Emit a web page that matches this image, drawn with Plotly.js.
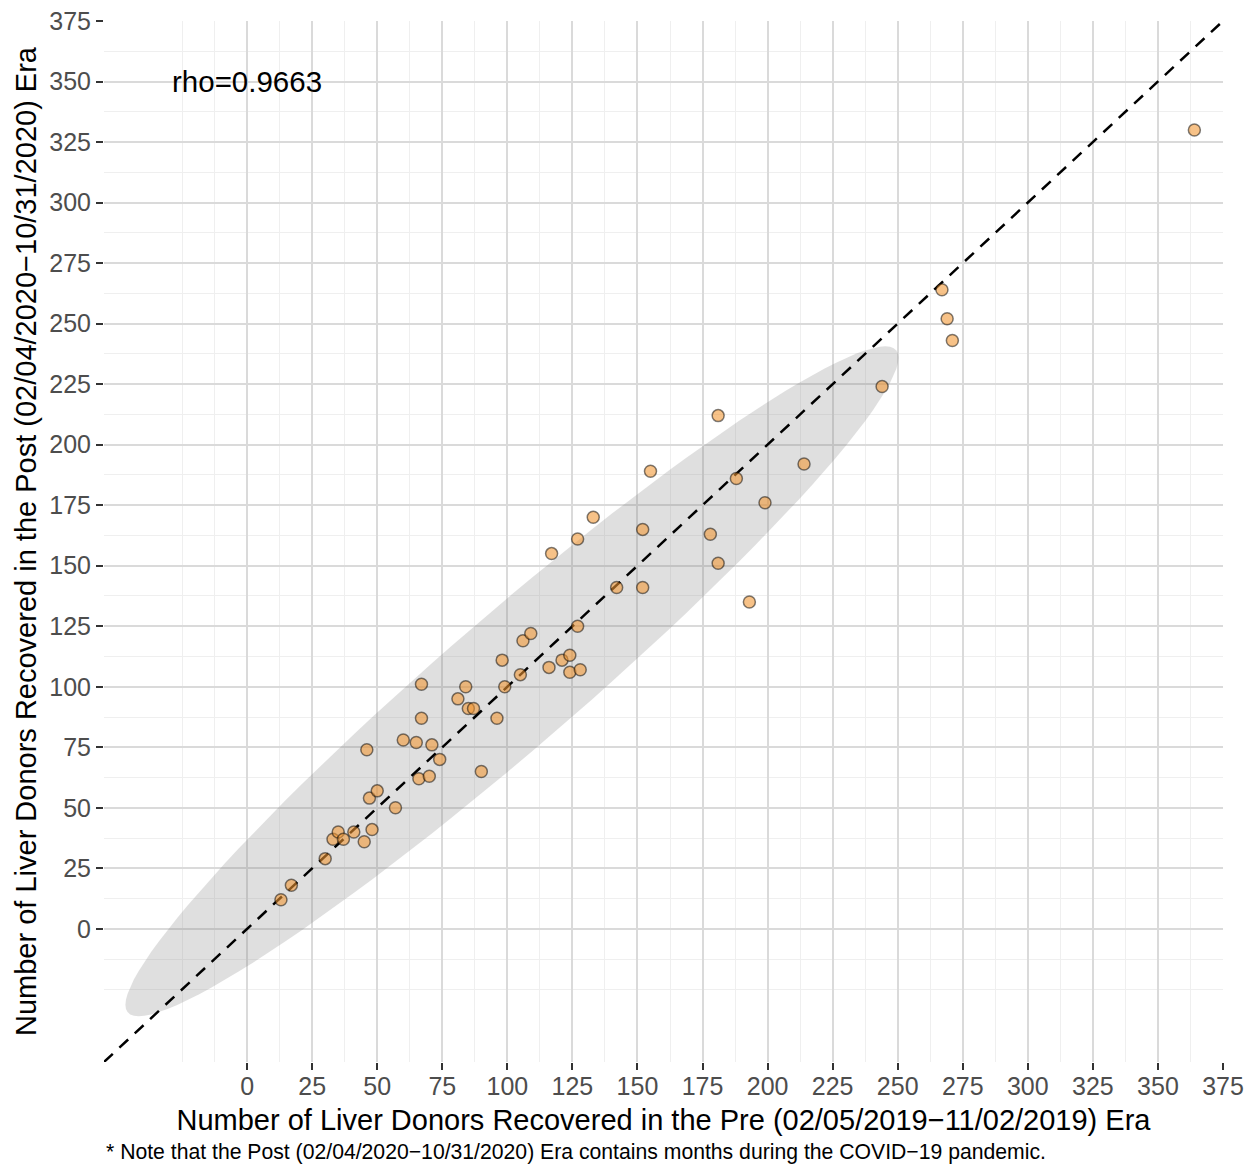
<!DOCTYPE html>
<html>
<head>
<meta charset="utf-8">
<script src="https://cdn.plot.ly/plotly-3.0.1.min.js"></script>
<style>
html,body{margin:0;padding:0;background:#fff;}
#chart{width:1251px;height:1164px;}
</style>
</head>
<body>
<div id="chart"></div>
<script>
// Number of liver donors recovered per center: Pre era (x) vs Post era (y)
const preEra = [13,17,30,33,35,37,41,45,48,46,47,50,57,60,65,67,67,66,70,71,74,81,84,85,87,90,96,98,99,105,106,109,116,117,121,124,124,127,128,127,133,142,152,152,155,178,181,181,188,193,199,214,244,267,269,271,364];
const postEra = [12,18,29,37,40,37,40,36,41,74,54,57,50,78,77,101,87,62,63,76,70,95,100,91,91,65,87,111,100,105,119,122,108,155,111,113,106,125,107,161,170,141,165,141,189,163,212,151,186,135,176,192,224,264,252,243,330];
const tickValues = [0,25,50,75,100,125,150,175,200,225,250,275,300,325,350,375];
const tickLabels = ["0","25","50","75","100","125","150","175","200","225","250","275","300","325","350","375"];
const minorValues = [-25,-12.5,12.5,37.5,62.5,87.5,112.5,137.5,162.5,187.5,212.5,237.5,262.5,287.5,312.5,337.5,362.5];
const axisRange = [-55, 375];
const rhoText = "rho=0.9663";
const xTitle = "Number of Liver Donors Recovered in the Pre (02/05/2019\u221211/02/2019) Era";
const yTitle = "Number of Liver Donors Recovered in the Post (02/04/2020\u221210/31/2020) Era";
const noteText = "* Note that the Post (02/04/2020\u221210/31/2020) Era contains months during the COVID\u221219 pandemic.";
const ellipseLevel = 0.95;

// robust multivariate t covariance (as MASS::cov.trob) used by stat_ellipse
function covTrob(xs, ys, nu, maxit, tol) {
  const n = xs.length, p = 2;
  let w = new Array(n).fill(1);
  let loc = [xs.reduce((a,b)=>a+b,0)/n, ys.reduce((a,b)=>a+b,0)/n];
  let X = [];
  for (let it = 0; it < maxit; it++) {
    const w0 = w.slice();
    X = xs.map((x,i)=>[x-loc[0], ys[i]-loc[1]]);
    const sw = w.reduce((a,b)=>a+b,0);
    let a=0,b=0,c=0;
    for (let i=0;i<n;i++){ const f=w[i]/sw; a+=f*X[i][0]*X[i][0]; b+=f*X[i][0]*X[i][1]; c+=f*X[i][1]*X[i][1]; }
    const det = a*c-b*b;
    w = X.map(v=>{ const q=(c*v[0]*v[0]-2*b*v[0]*v[1]+a*v[1]*v[1])/det; return (nu+p)/(nu+q); });
    const sw2 = w.reduce((s,v)=>s+v,0);
    loc = [w.reduce((s,v,i)=>s+v*xs[i],0)/sw2, w.reduce((s,v,i)=>s+v*ys[i],0)/sw2];
    if (w.every((v,i)=>Math.abs(v-w0[i])<tol)) break;
  }
  let a=0,b=0,c=0;
  for (let i=0;i<n;i++){ a+=w[i]*X[i][0]*X[i][0]; b+=w[i]*X[i][0]*X[i][1]; c+=w[i]*X[i][1]*X[i][1]; }
  return {cov:[[a/n,b/n],[b/n,c/n]], center:loc};
}
function ellipsePath(xs, ys, level, segments) {
  const v = covTrob(xs, ys, 5, 25, 0.01);
  const dfd = xs.length - 1;
  const f = (dfd/2)*(Math.pow(1-level, -2/dfd)-1);
  const radius = Math.sqrt(2*f);
  const r11 = Math.sqrt(v.cov[0][0]);
  const r12 = v.cov[0][1]/r11;
  const r22 = Math.sqrt(v.cov[1][1]-r12*r12);
  const ex=[], ey=[];
  for (let k=0;k<=segments;k++){
    const t = k*2*Math.PI/segments;
    const u = Math.cos(t), s = Math.sin(t);
    ex.push(v.center[0] + radius*u*r11);
    ey.push(v.center[1] + radius*(u*r12 + s*r22));
  }
  return {ex, ey};
}
const ell = ellipsePath(preEra, postEra, ellipseLevel, 120);

const font = "Liberation Sans, Arial, Helvetica, sans-serif";
const traces = [
  {type:'scatter', mode:'lines', x:ell.ex, y:ell.ey, fill:'toself',
   fillcolor:'rgba(128,128,128,0.25)', line:{width:0, color:'rgba(0,0,0,0)'}, hoverinfo:'skip', showlegend:false},
  {type:'scatter', mode:'lines', x:axisRange, y:axisRange,
   line:{color:'#000', width:2.5, dash:'12px,9px'}, hoverinfo:'skip', showlegend:false},
  {type:'scatter', mode:'markers', x:preEra, y:postEra,
   marker:{size:12, color:'rgba(242,150,50,0.58)', line:{color:'rgba(0,0,0,0.5)', width:1.5}},
   showlegend:false}
];
const axisCommon = {
  range: axisRange, tickmode:'array', tickvals: tickValues, ticktext: tickLabels,
  showgrid:true, gridcolor:'#dadada', gridwidth:2, zeroline:false, showline:false,
  ticks:'outside', ticklen:7, tickwidth:2, tickcolor:'#333333',
  tickfont:{family:font, size:25, color:'#4d4d4d'},
  minor:{tickmode:'array', tickvals: minorValues, showgrid:true, gridcolor:'#efefef', gridwidth:1, ticklen:0},
  automargin:false
};
const layout = {
  width:1251, height:1164,
  margin:{l:104, r:28, t:21, b:102},
  paper_bgcolor:'#fff', plot_bgcolor:'#fff',
  font:{family:font},
  showlegend:false,
  xaxis: Object.assign({}, axisCommon, {ticklabelstandoff:-5, title:{text:xTitle, font:{family:font, size:29, color:'#000'}, standoff:10}}),
  yaxis: Object.assign({}, axisCommon, {title:{text:yTitle, font:{family:font, size:29, color:'#000'}, standoff:4}}),
  annotations:[
    {text:rhoText, x:0, y:350, xref:'x', yref:'y', showarrow:false, xanchor:'center', yanchor:'middle',
     font:{family:font, size:29.5, color:'#000'}},
    {text:noteText, x:0, y:-0.0865, xref:'paper', yref:'paper', showarrow:false, xanchor:'left', yanchor:'middle',
     font:{family:font, size:21.2, color:'#000'}}
  ]
};
Plotly.newPlot('chart', traces, layout, {displayModeBar:false, staticPlot:true});
</script>
</body>
</html>
